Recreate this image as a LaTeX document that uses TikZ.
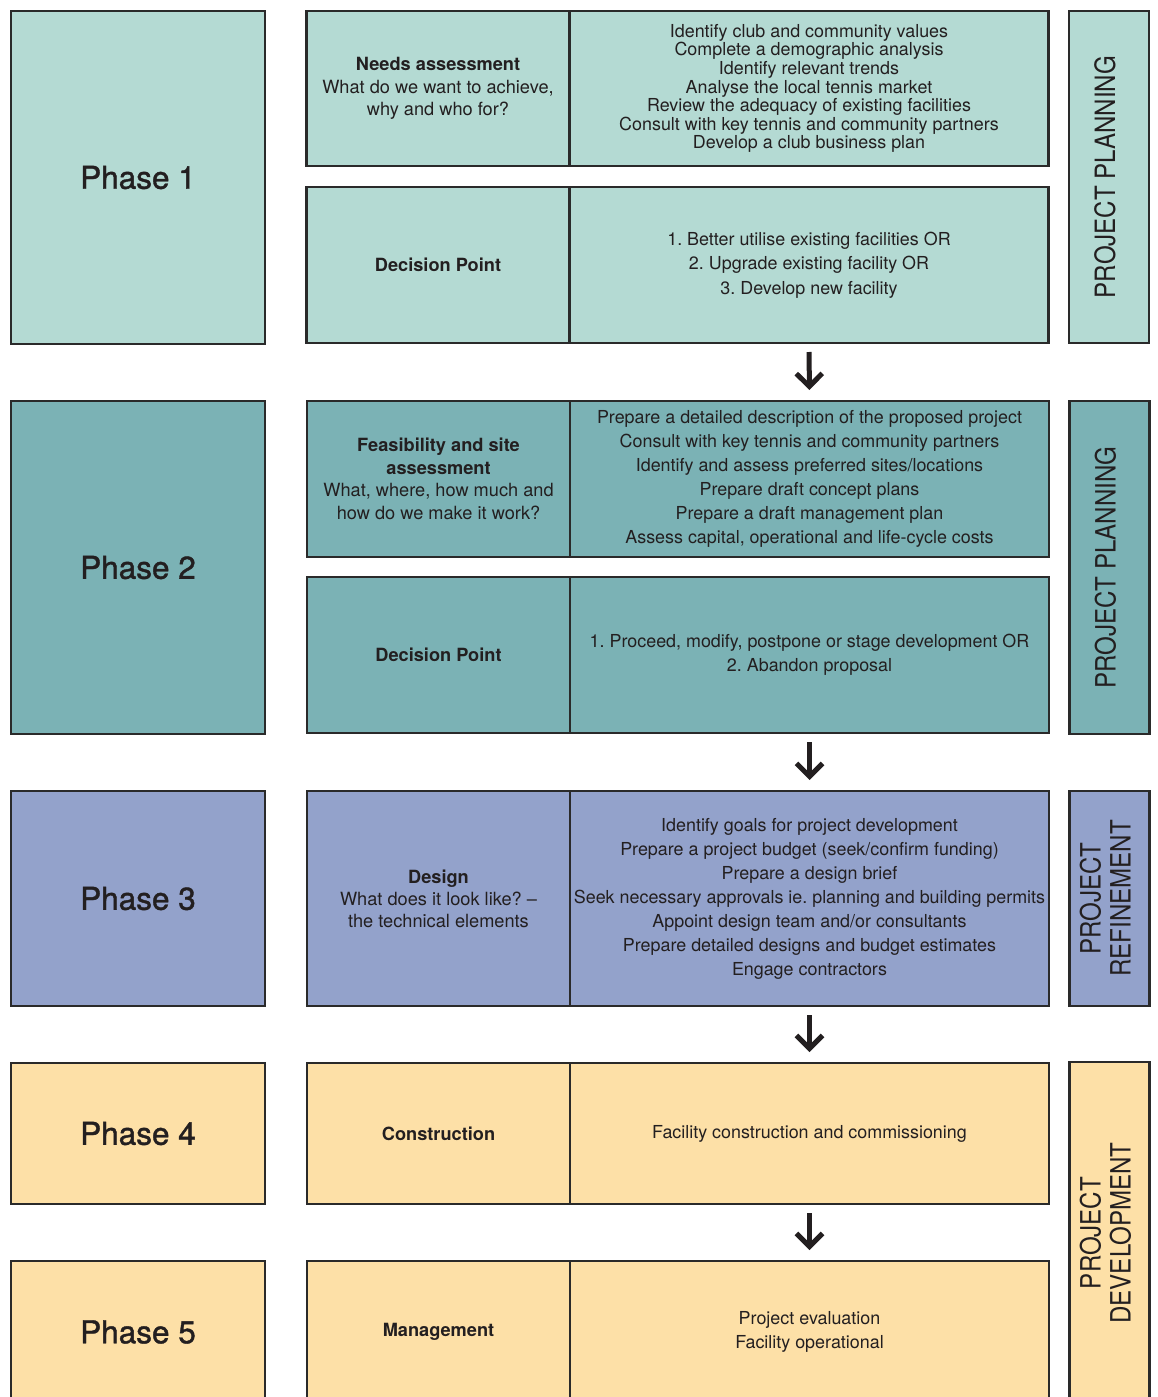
\documentclass[tikz,border=0pt]{standalone}
\usepackage{fontspec}
\setmainfont{TeX Gyre Heros}
\newfontfamily\phasefont[FakeBold=1.2]{TeX Gyre Heros}
\usetikzlibrary{arrows.meta}
\definecolor{pone}{HTML}{B4DAD3}
\definecolor{ptwo}{HTML}{7BB2B5}
\definecolor{pthree}{HTML}{93A2CB}
\definecolor{pfour}{HTML}{FDE0A7}
\definecolor{bordc}{HTML}{2A2A2A}
\definecolor{txt}{HTML}{231F20}
\tikzset{
  cell/.style={draw=bordc, line width=2.5pt, inner sep=0pt, outer sep=0pt,
    anchor=north west, align=center, text=txt,
    font=\fontsize{17.9}{24}\selectfont},
  phasebox/.style={cell, minimum width=254pt, font=\phasefont\fontsize{31.5}{36}\selectfont},
  lcell/.style={cell, minimum width=263pt, font=\fontsize{18.2}{22.5}\selectfont},
  rcell/.style={cell, minimum width=479pt},
  sidebox/.style={draw=bordc, line width=2.5pt, inner sep=0pt, outer sep=0pt,
    rotate=90, minimum height=80pt, align=center, text=txt,
    font=\fontsize{28}{30}\selectfont},
  flowarrow/.style={line width=5pt, draw=txt,
    -{Straight Barb[length=13pt,width=26pt]}, shorten <=9pt, shorten >=11pt}
}
\newcommand{\sidetext}[1]{\scalebox{0.86}[1]{\begin{tabular}{@{}c@{}}#1\end{tabular}}}
\begin{document}
\frenchspacing
\begin{tikzpicture}[x=1pt,y=-1pt]
\useasboundingbox (0,0) rectangle (1157,1397);
\clip (0,0) rectangle (1157,1397);

% Phase boxes
\node[phasebox, fill=pone, minimum height=333pt] (ph1) at (11,11) {Phase 1};
\node[phasebox, fill=ptwo, minimum height=333pt] (ph2) at (11,401) {Phase 2};
\node[phasebox, fill=pthree, minimum height=215pt] (ph3) at (11,791) {Phase 3};
\node[phasebox, fill=pfour, minimum height=141pt] (ph4) at (11,1063) {Phase 4};
\node[phasebox, fill=pfour, minimum height=142pt] (ph5) at (11,1261) {Phase 5};

% Phase 1 cells
\node[lcell, fill=pone, minimum height=155pt] (p1aL) at (306.5,11)
  {\textbf{Needs assessment}\\What do we want to achieve,\\why and who for?};
\node[rcell, fill=pone, minimum height=155pt, font=\fontsize{17.9}{18.6}\selectfont] (p1aR) at (569.5,11)
  {Identify club and community values\\Complete a demographic analysis\\Identify relevant trends\\Analyse the local tennis market\\Review the adequacy of existing facilities\\Consult with key tennis and community partners\\Develop a club business plan};
\node[lcell, fill=pone, minimum height=156pt] (p1bL) at (306.5,187) {\textbf{Decision Point}};
\node[rcell, fill=pone, minimum height=156pt, font=\fontsize{17.9}{24.5}\selectfont] (p1bR) at (569.5,187)
  {1. Better utilise existing facilities OR\\2. Upgrade existing facility OR\\3. Develop new facility};

% Phase 2 cells
\node[lcell, fill=ptwo, minimum height=156pt] (p2aL) at (307,401)
  {\textbf{Feasibility and site}\\\textbf{assessment}\\What, where, how much and\\how do we make it work?};
\node[rcell, fill=ptwo, minimum height=156pt] (p2aR) at (570,401)
  {Prepare a detailed description of the proposed project\\Consult with key tennis and community partners\\Identify and assess preferred sites/locations\\Prepare draft concept plans\\Prepare a draft management plan\\Assess capital, operational and life-cycle costs};
\node[lcell, fill=ptwo, minimum height=156pt] (p2bL) at (307,577) {\textbf{Decision Point}};
\node[rcell, fill=ptwo, minimum height=156pt] (p2bR) at (570,577)
  {1. Proceed, modify, postpone or stage development OR\\2. Abandon proposal};

% Phase 3 cells
\node[lcell, fill=pthree, minimum height=215pt, font=\fontsize{18.2}{22}\selectfont] (p3L) at (307,791)
  {\textbf{Design}\\What does it look like? --\\the technical elements};
\node[rcell, fill=pthree, minimum height=215pt] (p3R) at (570,791)
  {Identify goals for project development\\Prepare a project budget (seek/confirm funding)\\Prepare a design brief\\Seek necessary approvals ie. planning and building permits\\Appoint design team and/or consultants\\Prepare detailed designs and budget estimates\\Engage contractors};

% Phase 4 cells
\node[lcell, fill=pfour, minimum height=141pt] (p4L) at (307,1063) {\textbf{Construction}};
\node[rcell, fill=pfour, minimum height=141pt] (p4R) at (570,1063)
  {Facility construction and commissioning};

% Phase 5 cells
\node[lcell, fill=pfour, minimum height=142pt] (p5L) at (307,1261) {\textbf{Management}};
\node[rcell, fill=pfour, minimum height=142pt] (p5R) at (570,1261)
  {Project evaluation\\Facility operational};

% Side boxes
\node[sidebox, fill=pone, minimum width=332pt] (s1) at (1109,177) {\sidetext{PROJECT PLANNING}};
\node[sidebox, fill=ptwo, minimum width=333pt] (s2) at (1109.5,567.5) {\sidetext{PROJECT PLANNING}};
\node[sidebox, fill=pthree, minimum width=215pt] (s3) at (1109.5,898.5) {\sidetext{PROJECT\\REFINEMENT}};
\node[sidebox, fill=pfour, minimum width=342pt] (s4) at (1109.5,1233) {\sidetext{PROJECT\\DEVELOPMENT}};

% Arrows
\draw[flowarrow] (p1bR.south) -- (p2aR.north);
\draw[flowarrow] (p2bR.south) -- (p3R.north);
\draw[flowarrow] (p3R.south) -- (p4R.north);
\draw[flowarrow] (p4R.south) -- (p5R.north);
\end{tikzpicture}
\end{document}
